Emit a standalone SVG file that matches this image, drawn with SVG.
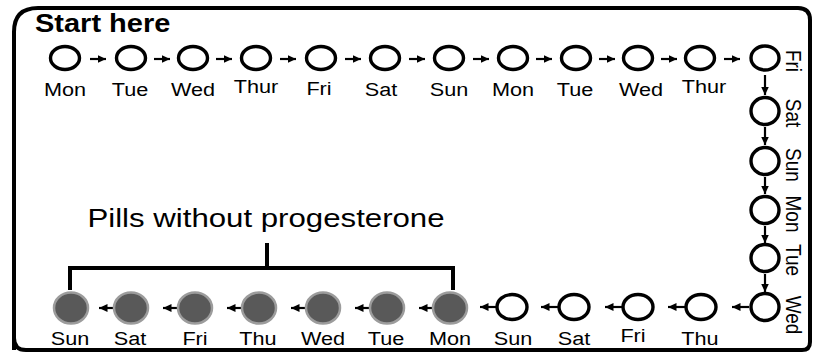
<svg xmlns="http://www.w3.org/2000/svg" width="813" height="358" viewBox="0 0 813 358">
<style>
.frame{fill:none;stroke:#000;stroke-width:4}
.e{fill:#fff;stroke:#000;stroke-width:3.4}
.f{fill:#595959;stroke:#9c9c9c;stroke-width:2.5}
.lbl{font-family:"Liberation Sans",Arial,sans-serif;font-size:19px;fill:#000;text-anchor:middle}
.title{font-family:"Liberation Sans",Arial,sans-serif;font-size:25px;font-weight:bold;fill:#000}
.big{font-family:"Liberation Sans",Arial,sans-serif;font-size:26px;fill:#000;text-anchor:middle}
.arr{stroke:#000;stroke-width:2.2;fill:none;marker-end:url(#ah)}
.br{stroke:#000;stroke-width:4;fill:none}
</style>
<defs>
<marker id="ah" markerUnits="userSpaceOnUse" markerWidth="10" markerHeight="10" refX="8.5" refY="5" orient="auto">
<path d="M0,1 L8.5,5 L0,9 z" fill="#000"/>
</marker>
</defs>
<path class="frame" d="M14,350 L14,32 Q14,8 38,8 L798,8 Q810,8 810,20 L810,342 Q810,350 802,350 L26,350 Q14,350 14,338 Z"/>
<text class="title" transform="translate(35,32) scale(1.16,1)">Start here</text>

<g id="connectors">
<line class="arr" x1="90" y1="59" x2="106" y2="59"/>
<line class="arr" x1="154" y1="59" x2="170" y2="59"/>
<line class="arr" x1="216" y1="59" x2="232" y2="59"/>
<line class="arr" x1="280" y1="59" x2="296" y2="59"/>
<line class="arr" x1="345" y1="59" x2="361" y2="59"/>
<line class="arr" x1="409" y1="59" x2="425" y2="59"/>
<line class="arr" x1="473" y1="59" x2="489" y2="59"/>
<line class="arr" x1="536" y1="59" x2="552" y2="59"/>
<line class="arr" x1="599" y1="59" x2="615" y2="59"/>
<line class="arr" x1="661" y1="59" x2="677" y2="59"/>
<line class="arr" x1="724" y1="59" x2="740" y2="59"/>
<line class="arr" x1="765" y1="75" x2="765" y2="95"/>
<line class="arr" x1="765" y1="127" x2="765" y2="145"/>
<line class="arr" x1="765" y1="177" x2="765" y2="194"/>
<line class="arr" x1="765" y1="226" x2="765" y2="243"/>
<line class="arr" x1="765" y1="274" x2="765" y2="292"/>
<line class="arr" x1="749" y1="307" x2="732" y2="307"/>
<line class="arr" x1="685" y1="307" x2="668" y2="307"/>
<line class="arr" x1="622" y1="307" x2="605" y2="307"/>
<line class="arr" x1="558" y1="307" x2="541" y2="307"/>
<line class="arr" x1="496" y1="307" x2="480" y2="307"/>
<line class="arr" x1="432" y1="308" x2="419" y2="308"/>
<line class="arr" x1="369" y1="308" x2="355" y2="308"/>
<line class="arr" x1="305" y1="308" x2="291" y2="308"/>
<line class="arr" x1="241" y1="308" x2="227" y2="308"/>
<line class="arr" x1="177" y1="308" x2="163" y2="308"/>
<line class="arr" x1="113" y1="308" x2="99" y2="308"/>
</g>

<g id="top-row">
<g id="t1"><ellipse class="e" cx="65" cy="58" rx="14.5" ry="11.5"/><text class="lbl" transform="translate(65,96) scale(1.14,1)">Mon</text></g>
<g id="t2"><ellipse class="e" cx="131" cy="58" rx="14.5" ry="11.5"/><text class="lbl" transform="translate(130,96) scale(1.14,1)">Tue</text></g>
<g id="t3"><ellipse class="e" cx="193" cy="58" rx="14.5" ry="11.5"/><text class="lbl" transform="translate(193,96) scale(1.14,1)">Wed</text></g>
<g id="t4"><ellipse class="e" cx="256" cy="58" rx="14.5" ry="11.5"/><text class="lbl" transform="translate(256,93) scale(1.14,1)">Thur</text></g>
<g id="t5"><ellipse class="e" cx="321" cy="58" rx="14.5" ry="11.5"/><text class="lbl" transform="translate(319,95) scale(1.14,1)">Fri</text></g>
<g id="t6"><ellipse class="e" cx="385" cy="58" rx="14.5" ry="11.5"/><text class="lbl" transform="translate(381,96) scale(1.14,1)">Sat</text></g>
<g id="t7"><ellipse class="e" cx="449" cy="58" rx="14.5" ry="11.5"/><text class="lbl" transform="translate(449,96) scale(1.14,1)">Sun</text></g>
<g id="t8"><ellipse class="e" cx="513" cy="58" rx="14.5" ry="11.5"/><text class="lbl" transform="translate(513,96) scale(1.14,1)">Mon</text></g>
<g id="t9"><ellipse class="e" cx="576" cy="58" rx="14.5" ry="11.5"/><text class="lbl" transform="translate(575,96) scale(1.14,1)">Tue</text></g>
<g id="t10"><ellipse class="e" cx="638" cy="58" rx="14.5" ry="11.5"/><text class="lbl" transform="translate(641,96) scale(1.14,1)">Wed</text></g>
<g id="t11"><ellipse class="e" cx="700" cy="58" rx="14.5" ry="11.5"/><text class="lbl" transform="translate(704,93) scale(1.14,1)">Thur</text></g>
</g>

<g id="right-col">
<g id="r1"><ellipse class="e" cx="765" cy="58" rx="14" ry="12"/><text class="lbl" transform="translate(786,61) scale(1.14,1) rotate(90)">Fri</text></g>
<g id="r2"><ellipse class="e" cx="765" cy="111" rx="14" ry="13.5"/><text class="lbl" transform="translate(786,113) scale(1.14,1) rotate(90)">Sat</text></g>
<g id="r3"><ellipse class="e" cx="765" cy="161" rx="14" ry="13.5"/><text class="lbl" transform="translate(786,165) scale(1.14,1) rotate(90)">Sun</text></g>
<g id="r4"><ellipse class="e" cx="765" cy="210" rx="14" ry="13.5"/><text class="lbl" transform="translate(786,214) scale(1.14,1) rotate(90)">Mon</text></g>
<g id="r5"><ellipse class="e" cx="765" cy="258" rx="14" ry="13.5"/><text class="lbl" transform="translate(786,260) scale(1.14,1) rotate(90)">Tue</text></g>
<g id="r6"><ellipse class="e" cx="765" cy="307" rx="14" ry="13.5"/><text class="lbl" transform="translate(786,315) scale(1.14,1) rotate(90)">Wed</text></g>
</g>

<g id="bottom-row">
<g id="b1"><ellipse class="e" cx="701" cy="307" rx="15" ry="12.5"/><text class="lbl" transform="translate(700,345) scale(1.14,1)">Thu</text></g>
<g id="b2"><ellipse class="e" cx="638" cy="307" rx="15" ry="12.5"/><text class="lbl" transform="translate(633,342) scale(1.14,1)">Fri</text></g>
<g id="b3"><ellipse class="e" cx="574" cy="307" rx="15" ry="12.5"/><text class="lbl" transform="translate(574,345) scale(1.14,1)">Sat</text></g>
<g id="b4"><ellipse class="e" cx="512" cy="307" rx="15" ry="12.5"/><text class="lbl" transform="translate(513,345) scale(1.14,1)">Sun</text></g>
<g id="b5"><ellipse class="f" cx="450" cy="308" rx="17" ry="15.5"/><text class="lbl" transform="translate(450,345) scale(1.14,1)">Mon</text></g>
<g id="b6"><ellipse class="f" cx="387" cy="308" rx="17" ry="15.5"/><text class="lbl" transform="translate(386,345) scale(1.14,1)">Tue</text></g>
<g id="b7"><ellipse class="f" cx="323" cy="308" rx="17" ry="15.5"/><text class="lbl" transform="translate(323,345) scale(1.14,1)">Wed</text></g>
<g id="b8"><ellipse class="f" cx="259" cy="308" rx="17" ry="15.5"/><text class="lbl" transform="translate(258,345) scale(1.14,1)">Thu</text></g>
<g id="b9"><ellipse class="f" cx="195" cy="308" rx="17" ry="15.5"/><text class="lbl" transform="translate(195,345) scale(1.14,1)">Fri</text></g>
<g id="b10"><ellipse class="f" cx="131" cy="308" rx="17" ry="15.5"/><text class="lbl" transform="translate(130,345) scale(1.14,1)">Sat</text></g>
<g id="b11"><ellipse class="f" cx="71" cy="308" rx="17" ry="15.5"/><text class="lbl" transform="translate(70,345) scale(1.14,1)">Sun</text></g>
</g>

<g id="bracket">
<path class="br" d="M70,290 L70,268 L453,268 L453,290 M267,243 L267,268"/>
<text class="big" transform="translate(266,227) scale(1.2,1)">Pills without progesterone</text>
</g>
</svg>
